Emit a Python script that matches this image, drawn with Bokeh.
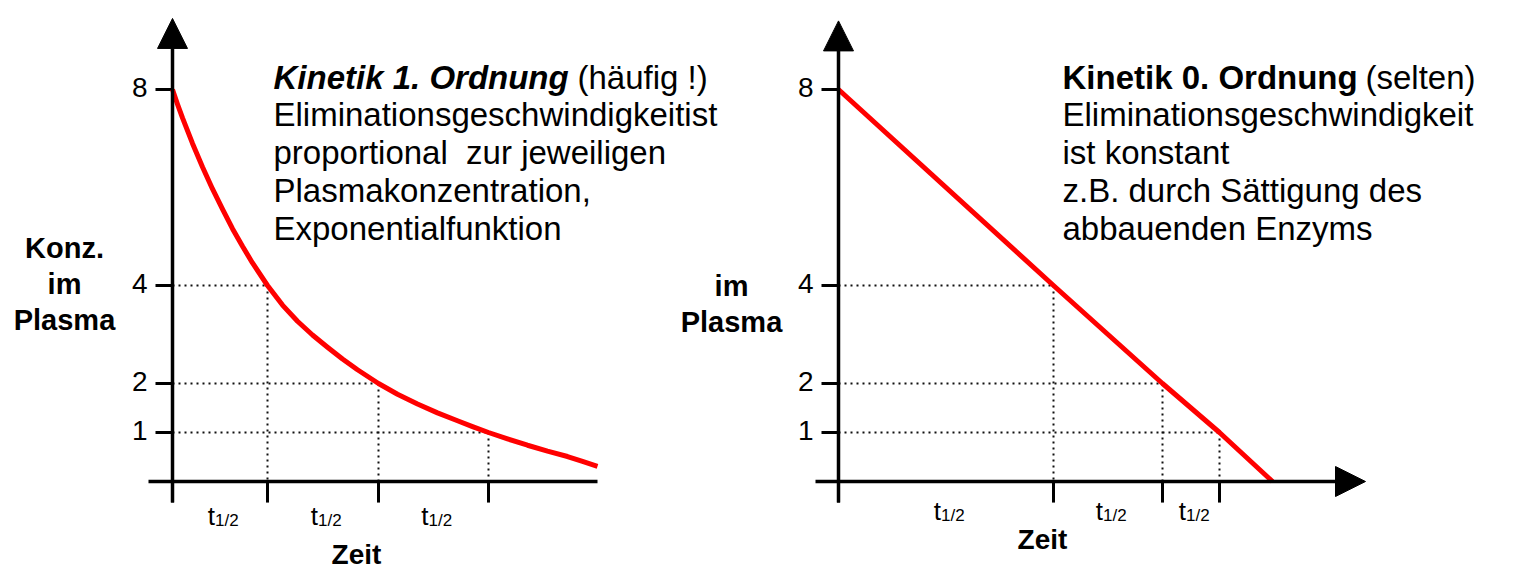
from bokeh.plotting import figure
from bokeh.models import Range1d, Arrow, NormalHead
from bokeh.core.properties import value
from bokeh.embed import file_html
from bokeh.resources import INLINE

# ---------------- data ----------------
conc_ticks = [1, 2, 4, 8]
conc_tick_labels = ["1", "2", "4", "8"]
marked_conc = [4, 2, 1]

# first order (exponential) curve
first_time = [0, 0.05, 0.1, 0.2, 0.3, 0.4, 0.5, 0.6, 0.7, 0.8, 0.95, 1.1, 1.25,
              1.4, 1.55, 1.7, 1.85, 2.06, 2.25, 2.45, 2.65, 2.85, 3.0, 3.16,
              3.35, 3.55, 3.75, 3.95, 4.1, 4.25]
first_conc = [8.0, 7.7, 7.42, 6.9, 6.42, 5.97, 5.56, 5.16, 4.8, 4.46, 4.0, 3.6, 3.27,
              2.99, 2.74, 2.5, 2.28, 2.0, 1.78, 1.58, 1.4, 1.24, 1.12, 1.0,
              0.87, 0.74, 0.62, 0.51, 0.41, 0.31]
first_half_times = [0, 0.95, 2.06, 3.16]

# zero order (linear) decline
zero_time = [0, 2.15, 3.24, 3.81, 4.34]
zero_conc = [8, 4, 2, 1, 0]
zero_half_times = [0, 2.15, 3.24, 3.81]

half_main = "t"
half_sub = "1/2"
x_label = "Zeit"
left_y_label = ["Konz.", "im", "Plasma"]
right_y_label = ["im", "Plasma"]

left_title_bold = "Kinetik 1. Ordnung"
left_title_rest = "(häufig !)"
left_lines = ["Eliminationsgeschwindigkeitist", "proportional\u00a0 zur jeweiligen",
              "Plasmakonzentration,", "Exponentialfunktion"]
right_title_bold = "Kinetik 0. Ordnung"
right_title_rest = "(selten)"
right_lines = ["Eliminationsgeschwindigkeit", "ist konstant",
               "z.B. durch Sättigung des", "abbauenden Enzyms"]

# ---------------- layout / style ----------------
W, H = 1506, 580
PX_T = 100.0      # px per time unit
PX_C = 49.0       # px per concentration unit
LEFT_ORIGIN = 172
RIGHT_ORIGIN = 838
BASE_Y = 481
FONT = value("Liberation Sans")
RED = "#ff0000"

x0 = -LEFT_ORIGIN / PX_T
y0 = -(H - BASE_Y) / PX_C
p = figure(width=W, height=H,
           x_range=Range1d(x0, x0 + W / PX_T),
           y_range=Range1d(y0, y0 + H / PX_C),
           output_backend="svg", toolbar_location=None,
           x_axis_location=None, y_axis_location=None,
           min_border=0, outline_line_color=None,
           background_fill_color="white", border_fill_color="white")
xr0 = -RIGHT_ORIGIN / PX_T
p.extra_x_ranges = {"r": Range1d(xr0, xr0 + W / PX_T)}
p.grid.visible = False


def panel(rname, curve_t, curve_c, half_times, axis_left, axis_right, x_arrow,
          zeit_pos, ylab, ylab_x, ylab_y0, title_bold, title_rest, lines,
          text_x, rest_offset, bold_style, t_base, arrow_tip):
    kw = dict(x_range_name=rname)
    # dotted helper lines
    hx = half_times[1:]
    p.segment(x0=[0] * 3, y0=marked_conc, x1=hx, y1=marked_conc,
              line_color="#111111", line_width=2, line_dash="2 4", **kw)
    p.segment(x0=hx, y0=marked_conc, x1=hx, y1=[0] * 3,
              line_color="#111111", line_width=2, line_dash="2 4", **kw)
    # x axis
    if x_arrow:
        p.add_layout(Arrow(end=NormalHead(size=30, fill_color="black", line_color="black"),
                           x_start=axis_left, y_start=0, x_end=axis_right, y_end=0,
                           line_width=3.5, line_color="black", **kw))
    else:
        p.segment(x0=[axis_left], y0=[0], x1=[axis_right], y1=[0],
                  line_color="black", line_width=3.5, **kw)
    # y axis with arrow
    p.add_layout(Arrow(end=NormalHead(size=30, fill_color="black", line_color="black"),
                       x_start=0, y_start=-0.43, x_end=0, y_end=arrow_tip,
                       line_width=3.5, line_color="black", **kw))
    # y ticks
    p.segment(x0=[-0.17] * 4, y0=conc_ticks, x1=[0] * 4, y1=conc_ticks,
              line_color="black", line_width=3, **kw)
    p.text(x=[-0.25] * 4, y=conc_ticks, text=conc_tick_labels, text_font=FONT,
           text_font_size="28px", text_align="right", text_baseline="middle",
           y_offset=-2, text_color="black", **kw)
    # x ticks
    n = len(half_times)
    p.segment(x0=half_times, y0=[0] * n, x1=half_times, y1=[-0.43] * n,
              line_color="black", line_width=3, **kw)
    mids = [(a + b) / 2 for a, b in zip(half_times[:-1], half_times[1:])]
    p.text(x=mids, y=[t_base] * len(mids), text=[half_main] * len(mids),
           text_font=FONT, text_font_size="26px", text_align="right",
           text_baseline="alphabetic", x_offset=-5, text_color="black", **kw)
    p.text(x=mids, y=[t_base - 0.1] * len(mids), text=[half_sub] * len(mids),
           text_font=FONT, text_font_size="17px", text_align="left",
           text_baseline="alphabetic", x_offset=-5, text_color="black", **kw)
    # curve
    p.line(curve_t, curve_c, line_color=RED, line_width=5, line_join="round", **kw)
    # axis labels
    p.text(x=[zeit_pos[0]], y=[zeit_pos[1]], text=[x_label], text_font=FONT,
           text_font_size="28px", text_font_style="bold", text_align="center",
           text_baseline="alphabetic", text_color="black", **kw)
    p.text(x=[ylab_x] * len(ylab), y=[ylab_y0 - i * 0.73 for i in range(len(ylab))],
           text=ylab, text_font=FONT, text_font_size="29px", text_font_style="bold",
           text_align="center", text_baseline="alphabetic", text_color="black", **kw)
    # description
    p.text(x=[text_x], y=[8.25], text=[title_bold], text_font=FONT,
           text_font_size="33px", text_font_style=bold_style, text_align="left",
           text_baseline="alphabetic", text_color="black", **kw)
    p.text(x=[text_x], y=[8.25], text=[title_rest], text_font=FONT,
           text_font_size="33px", text_align="left", x_offset=rest_offset,
           text_baseline="alphabetic", text_color="black", **kw)
    p.text(x=[text_x] * len(lines), y=[7.48 - i * 0.77 for i in range(len(lines))],
           text=lines, text_font=FONT, text_font_size="33px", text_align="left",
           text_baseline="alphabetic", text_color="black", **kw)


panel("default", first_time, first_conc, first_half_times, -0.24, 4.25, False,
      (1.84, -1.48), left_y_label, -1.08, 4.76,
      left_title_bold, left_title_rest, left_lines, 1.01, 304, "bold italic",
      -0.70, 9.45)
panel("r", zero_time, zero_conc, zero_half_times, -0.23, 5.27, True,
      (2.04, -1.18), right_y_label, -1.07, 3.99,
      right_title_bold, right_title_rest, right_lines, 2.24, 303, "bold",
      -0.60, 9.4)

open("out.html", "w").write(file_html(p, INLINE))
